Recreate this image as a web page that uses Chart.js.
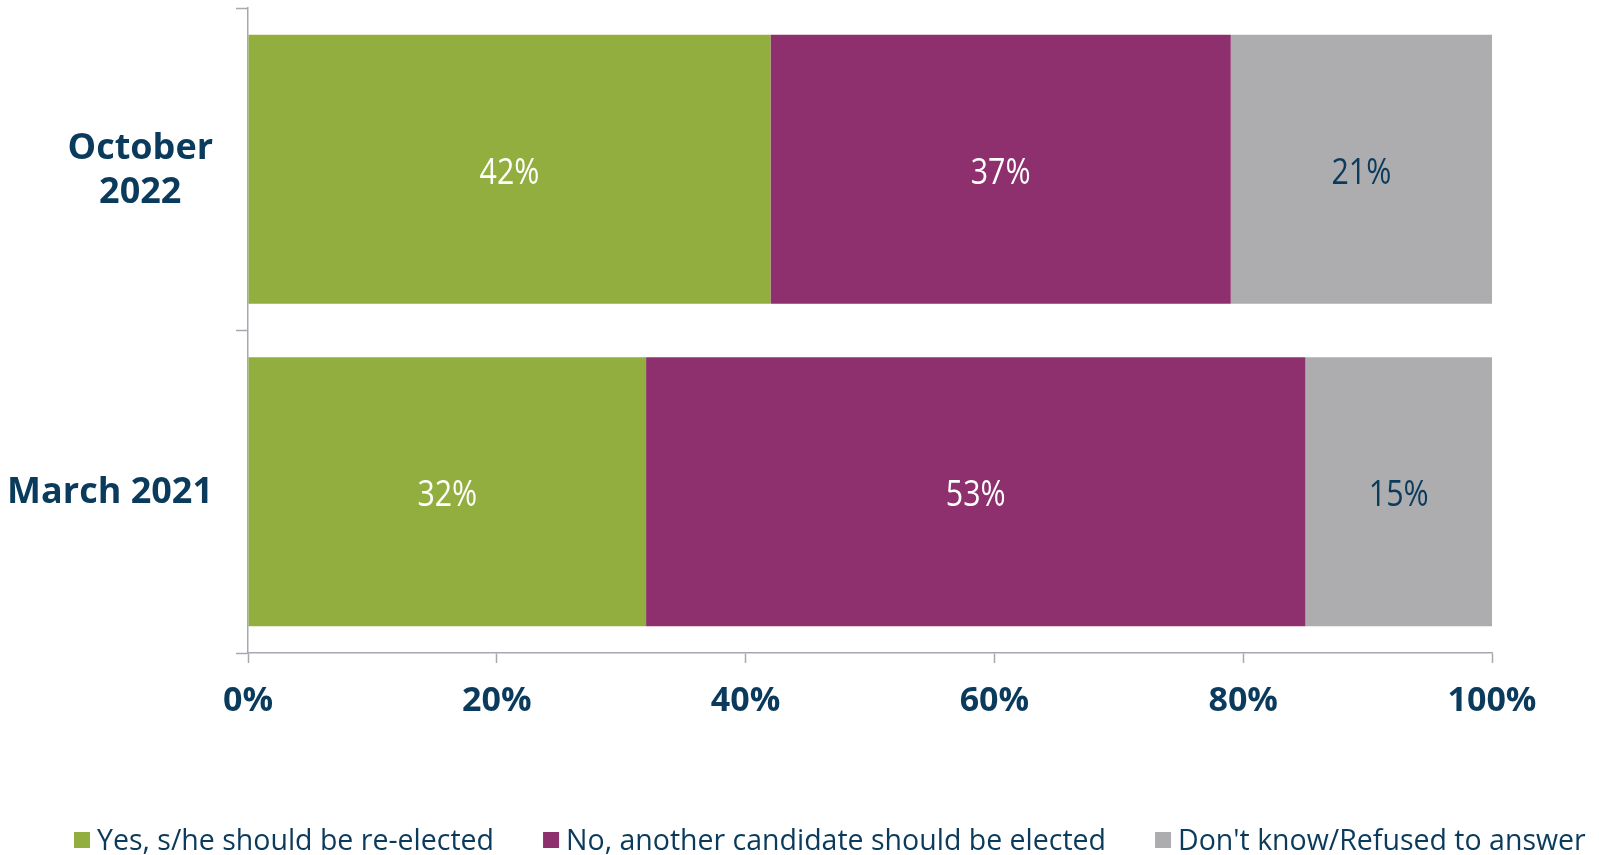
<!DOCTYPE html>
<html lang="en">
<head>
<meta charset="UTF-8">
<title>Re-election</title>
<script src="https://cdn.jsdelivr.net/npm/chart.js"></script>
<style>
  html, body { margin: 0; padding: 0; background: #fff; }
  #wrap { width: 1599px; height: 855px; position: relative; }
</style>
</head>
<body>
<div id="wrap"><canvas id="chart"></canvas></div>
<script>
// data
const categories = ['October 2022', 'March 2021'];
const categoryLines = [['October', '2022'], ['March 2021']];
const seriesNames = ['Yes, s/he should be re-elected', 'No, another candidate should be elected', "Don't know/Refused to answer"];
const yesValues = [42, 32];
const noValues = [37, 53];
const dontKnowValues = [21, 15];
const xTickValues = [0, 20, 40, 60, 80, 100];

const seriesColors = ['#92ae3f', '#8e306d', '#adadaf'];
const labelColors = ['#ffffff', '#ffffff', '#0b3b5c'];
const navy = '#0b3b5c';
const axisGray = '#a5a8ae';
const fontFamily = '"Open Sans", "Noto Sans", sans-serif';

// segment labels, drawn in the middle of each bar piece
const segmentLabels = {
  id: 'segmentLabels',
  afterDatasetsDraw(chart) {
    const ctx = chart.ctx;
    ctx.save();
    ctx.font = '37px ' + fontFamily;
    ctx.textAlign = 'center';
    ctx.textBaseline = 'middle';
    chart.data.datasets.forEach((ds, i) => {
      const meta = chart.getDatasetMeta(i);
      meta.data.forEach((bar, j) => {
        const p = bar.getCenterPoint();
        ctx.save();
        ctx.fillStyle = labelColors[i];
        ctx.translate(p.x, p.y + 4);
        ctx.scale(0.82, 1);
        ctx.fillText(ds.data[j] + '%', 0, 0);
        ctx.restore();
      });
    });
    ctx.restore();
  }
};

// category labels: block right-aligned, lines centred inside the block
const categoryLabels = {
  id: 'categoryLabels',
  afterDraw(chart) {
    const ctx = chart.ctx;
    const yScale = chart.scales.y;
    const right = 213;
    const lineGap = 44;
    ctx.save();
    ctx.font = 'bold 36px ' + fontFamily;
    ctx.fillStyle = navy;
    ctx.textAlign = 'center';
    ctx.textBaseline = 'middle';
    categoryLines.forEach((lines, i) => {
      const yc = yScale.getPixelForTick(i) + 1;
      const w = Math.max(...lines.map(l => ctx.measureText(l).width));
      const x = right - w / 2;
      const y0 = yc - (lines.length - 1) * lineGap / 2;
      lines.forEach((l, k) => ctx.fillText(l, x, y0 + k * lineGap));
    });
    ctx.restore();
  }
};

// legend in one row along the bottom, tight box-to-text gap like the original
const bottomLegend = {
  id: 'bottomLegend',
  afterDraw(chart) {
    const ctx = chart.ctx;
    const yc = 841;
    let x = 74;
    ctx.save();
    ctx.font = '28.5px ' + fontFamily;
    ctx.textAlign = 'left';
    ctx.textBaseline = 'middle';
    chart.data.datasets.forEach((ds, i) => {
      ctx.fillStyle = ds.backgroundColor;
      ctx.fillRect(x, yc - 9, 16, 16);
      ctx.fillStyle = navy;
      ctx.fillText(ds.label, x + 23, yc + 1);
      x += 23 + ctx.measureText(ds.label).width + 49;
    });
    ctx.restore();
  }
};

const values = [yesValues, noValues, dontKnowValues];

new Chart(document.getElementById('chart'), {
  type: 'bar',
  data: {
    labels: categories,
    datasets: seriesNames.map((name, i) => ({
      label: name,
      data: values[i],
      backgroundColor: seriesColors[i],
      borderWidth: 0,
      barPercentage: 0.834,
      categoryPercentage: 1
    }))
  },
  options: {
    indexAxis: 'y',
    responsive: true,
    maintainAspectRatio: false,
    animation: false,
    layout: { padding: { top: 8, right: 0, left: 0, bottom: 72 } },
    scales: {
      x: {
        stacked: true,
        min: 0,
        max: 100,
        afterBuildTicks: s => { s.ticks = xTickValues.map(v => ({ value: v })); },
        afterFit: s => { s.height = 130; s.paddingRight = 107; },
        ticks: {
          callback: v => v + '%',
          color: navy,
          padding: 18,
          maxRotation: 0,
          font: { family: fontFamily, size: 34, weight: 'bold' }
        },
        grid: { drawOnChartArea: false, drawTicks: true, tickLength: 10, tickColor: axisGray, tickWidth: 1.5 },
        border: { color: axisGray, width: 1.5 }
      },
      y: {
        stacked: true,
        afterFit: s => { s.width = 248; },
        ticks: { display: false },
        grid: { drawOnChartArea: false, drawTicks: true, tickLength: 12, tickColor: axisGray, tickWidth: 1.5, offset: true },
        border: { color: axisGray, width: 1.5 }
      }
    },
    plugins: {
      tooltip: { enabled: false },
      legend: { display: false }
    }
  },
  plugins: [segmentLabels, categoryLabels, bottomLegend]
});
</script>
</body>
</html>
